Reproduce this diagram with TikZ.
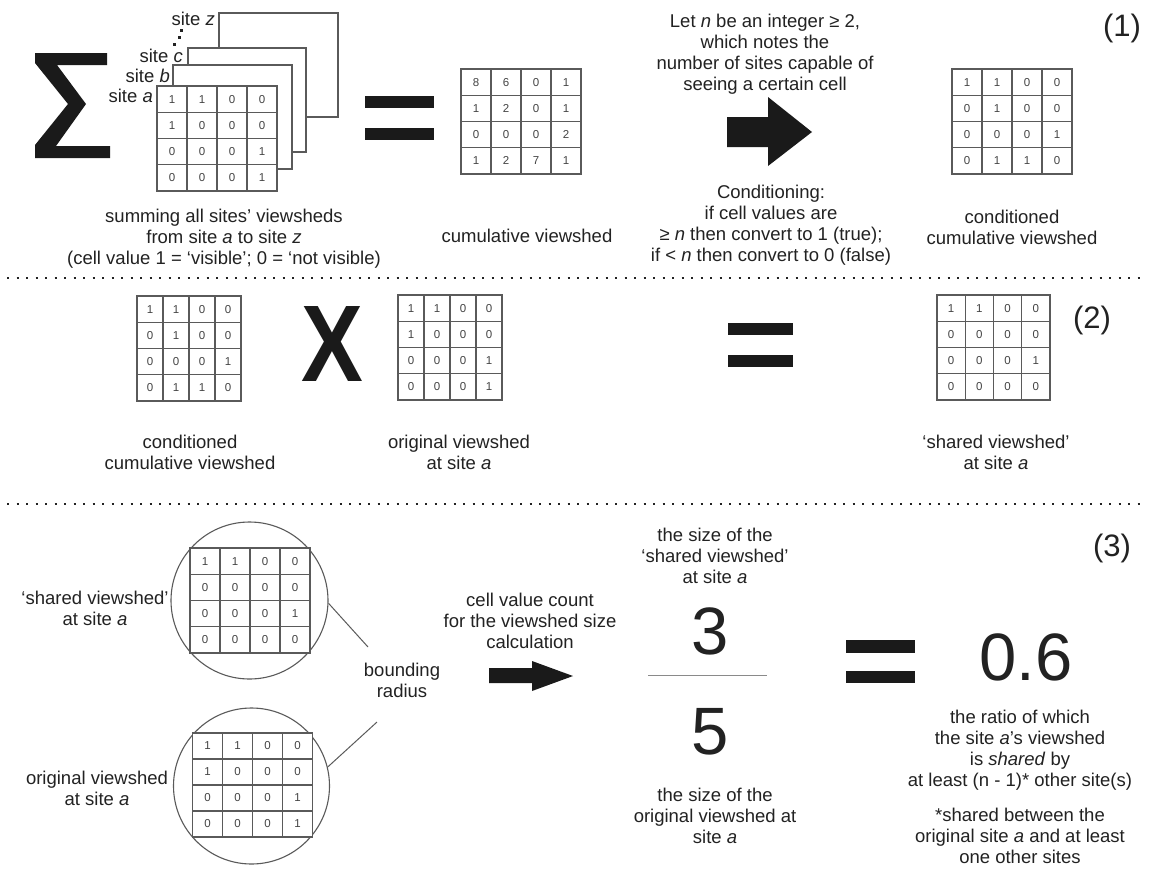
\documentclass[tikz,border=0pt]{standalone}
\usepackage{fontspec}
\setmainfont{Liberation Sans}
\usetikzlibrary{calc}
\definecolor{ink}{HTML}{222222}
\definecolor{gline}{HTML}{5a5a5a}
\definecolor{gdig}{HTML}{444444}
\definecolor{solid}{HTML}{1a1a1a}
\definecolor{fracline}{HTML}{8a8a8a}
\tikzset{
 txt/.style={font=\fontsize{18.5}{21}\selectfont, align=center, text=ink, inner sep=0pt},
 digit/.style={font=\fontsize{11.5}{13}\selectfont, text=gdig, inner sep=0pt},
 gridbox/.style={draw=gline, line width=1.1pt, fill=white, inner sep=0pt, outer sep=0pt},
 gridline/.style={draw=gline, line width=1.1pt},
 sheet/.style={draw=gline, line width=1.1pt, fill=white},
 bigsym/.style={fill=solid},
 bigletter/.style={font=\fontsize{109}{110}\selectfont\bfseries, text=solid, inner sep=0pt},
 dotline/.style={draw=ink, line width=2pt, dash pattern=on 2pt off 7.5pt},
 panellabel/.style={font=\fontsize{31}{34}\selectfont, text=ink, inner sep=0pt},
 bignum/.style={font=\fontsize{67}{70}\selectfont, text=ink, inner sep=0pt},
 sitelabel/.style={font=\fontsize{18.5}{21}\selectfont, text=ink, inner sep=0pt},
 ring/.style={circle, draw=gline, line width=1.1pt, inner sep=0pt},
 leader/.style={draw=gline, line width=1pt},
}
\newcommand{\vgrid}[6]{%
 \node[gridbox, minimum width={4*#4*1pt}, minimum height={4*#5*1pt}] (#1) at (#2,#3) {};
 \foreach \i in {1,2,3}{
   \draw[gridline] ($(#1.north west)+(\i*#4,0)$) -- ($(#1.south west)+(\i*#4,0)$);
   \draw[gridline] ($(#1.north west)+(0,\i*#5)$) -- ($(#1.north east)+(0,\i*#5)$);
 }
 \foreach \d [count=\k from 0] in {#6}{
   \pgfmathtruncatemacro{\rr}{\k/4}
   \pgfmathtruncatemacro{\cc}{\k-4*\rr}
   \node[digit] (#1-\k) at ($(#1.north west)+(\cc*#4+#4/2,\rr*#5+#5/2)$) {\d};
 }
}
\begin{document}
\begin{tikzpicture}[x=1pt,y=-1pt]
\fill[white] (0,0) rectangle (1149,876);
\useasboundingbox (0,0) rectangle (1149,876);

% ---------- panel 1 ----------
\fill[bigsym] (35,53) -- (107,53) -- (107,65) -- (57,65) -- (86,104) -- (56,146) -- (110,146) -- (110,158) -- (35,158) -- (35,145) -- (68,104) -- (35,63) -- cycle;

\draw[sheet] (219,13) rectangle (338,117);
\draw[sheet] (188,48) rectangle (306,152);
\draw[sheet] (173,65) rectangle (292,169);
\vgrid{ga}{217}{138.5}{30}{26.25}{1,1,0,0,1,0,0,0,0,0,0,1,0,0,0,1}

\node[sitelabel, anchor=base east] (sz) at (215,25) {site \textit{z}};
\node[sitelabel, anchor=base east] (sc) at (183,62) {site \textit{c}};
\node[sitelabel, anchor=base east] (sb) at (170,82) {site \textit{b}};
\node[sitelabel, anchor=base east] (sa) at (153,102) {site \textit{a}};
\fill[ink] (180.2,28.5) rectangle (183.2,31.5);
\fill[ink] (177.5,35.8) rectangle (180.5,38.8);
\fill[ink] (172.8,42.8) rectangle (175.8,45.8);

\node[txt] (t1) at (224,239) {summing all sites’ viewsheds\\from site \textit{a} to site \textit{z}\\(cell value 1 = ‘visible’; 0 = ‘not visible)};

\fill[bigsym] (365,96) rectangle (434,108);
\fill[bigsym] (365,128) rectangle (434,140);

\vgrid{gcum}{521}{121.5}{30}{26.25}{8,6,0,1,1,2,0,1,0,0,0,2,1,2,7,1}
\node[txt] (t2) at (527,236) {cumulative viewshed};

\node[txt] (t3) at (765,54) {Let \textit{n} be an integer ≥ 2,\\which notes the\\number of sites capable of\\seeing a certain cell};
\fill[bigsym] (727,117) -- (768,117) -- (768,97) -- (812,132) -- (768,166) -- (768,147) -- (727,147) -- cycle;
\node[txt] (t4) at (771,225) {Conditioning:\\if cell values are\\≥ \textit{n} then convert to 1 (true);\\if < \textit{n} then convert to 0 (false)};

\vgrid{gcond}{1012}{121.5}{30}{26.25}{1,1,0,0,0,1,0,0,0,0,0,1,0,1,1,0}
\node[txt] (t5) at (1012,227) {conditioned\\cumulative viewshed};
\node[panellabel] (p1) at (1122,28) {(1)};

\draw[dotline] (7,278) -- (1145,278);

% ---------- panel 2 ----------
\vgrid{gcond2}{189}{348.5}{26}{26.25}{1,1,0,0,0,1,0,0,0,0,0,1,0,1,1,0}
\node[txt] (t6) at (190,452) {conditioned\\cumulative viewshed};

\begin{scope}[shift={(332.5,344)}]
\node[bigletter, xscale=0.85, transform shape] (xsym) at (0,0) {X};
\end{scope}

\vgrid{gorig2}{450}{347.5}{26}{26.25}{1,1,0,0,1,0,0,0,0,0,0,1,0,0,0,1}
\node[txt] (t7) at (459,452) {original viewshed\\at site \textit{a}};

\fill[bigsym] (728,323) rectangle (793,335);
\fill[bigsym] (728,355) rectangle (793,367);

\vgrid{gshared2}{993.5}{347.5}{28.25}{26.25}{1,1,0,0,0,0,0,0,0,0,0,1,0,0,0,0}
\node[txt] (t8) at (996,452) {‘shared viewshed’\\at site \textit{a}};
\node[panellabel] (p2) at (1092,320) {(2)};

\draw[dotline] (7,504) -- (1145,504);

% ---------- panel 3 ----------
\node[ring, minimum size=157pt] (c1) at (249.5,600.5) {};
\vgrid{gs3}{250}{600.5}{30}{26.25}{1,1,0,0,0,0,0,0,0,0,0,1,0,0,0,0}
\node[ring, minimum size=156pt] (c2) at (251.5,786) {};
\vgrid{go3}{252.5}{785}{30}{26}{1,1,0,0,1,0,0,0,0,0,0,1,0,0,0,1}

\node[txt] (t9) at (95,608) {‘shared viewshed’\\at site \textit{a}};
\node[txt] (t10) at (97,788) {original viewshed\\at site \textit{a}};

\coordinate (br1) at (368,647);
\coordinate (br2) at (377,722);
\draw[leader] (c1.-2) -- (br1);
\draw[leader] (c2.14) -- (br2);
\node[txt] (t11) at (402,680) {bounding\\radius};

\node[txt] (t12) at (530,621) {cell value count\\for the viewshed size\\calculation};
\fill[bigsym] (489,668) -- (532,668) -- (532,661) -- (573,676) -- (532,691) -- (532,683) -- (489,683) -- cycle;

\node[txt] (t13) at (715,556) {the size of the\\‘shared viewshed’\\at site \textit{a}};
\node[bignum] (n3) at (710,631) {3};
\draw[fracline, line width=1pt] (648,675) -- (767,675);
\node[bignum] (n5) at (710,732) {5};
\node[txt] (t14) at (715,816) {the size of the\\original viewshed at\\site \textit{a}};

\fill[bigsym] (846,640) rectangle (915,653);
\fill[bigsym] (846,671) rectangle (915,683);
\node[bignum] (n06) at (1026,657) {0.6};
\node[txt] (t15) at (1020,750) {the ratio of which\\the site \textit{a}’s viewshed\\is \textit{shared} by\\at least (n - 1)* other site(s)};
\node[txt] (t16) at (1020,836) {*shared between the\\original site \textit{a} and at least\\one other sites};
\node[panellabel] (p3) at (1112,548) {(3)};
\end{tikzpicture}
\end{document}
